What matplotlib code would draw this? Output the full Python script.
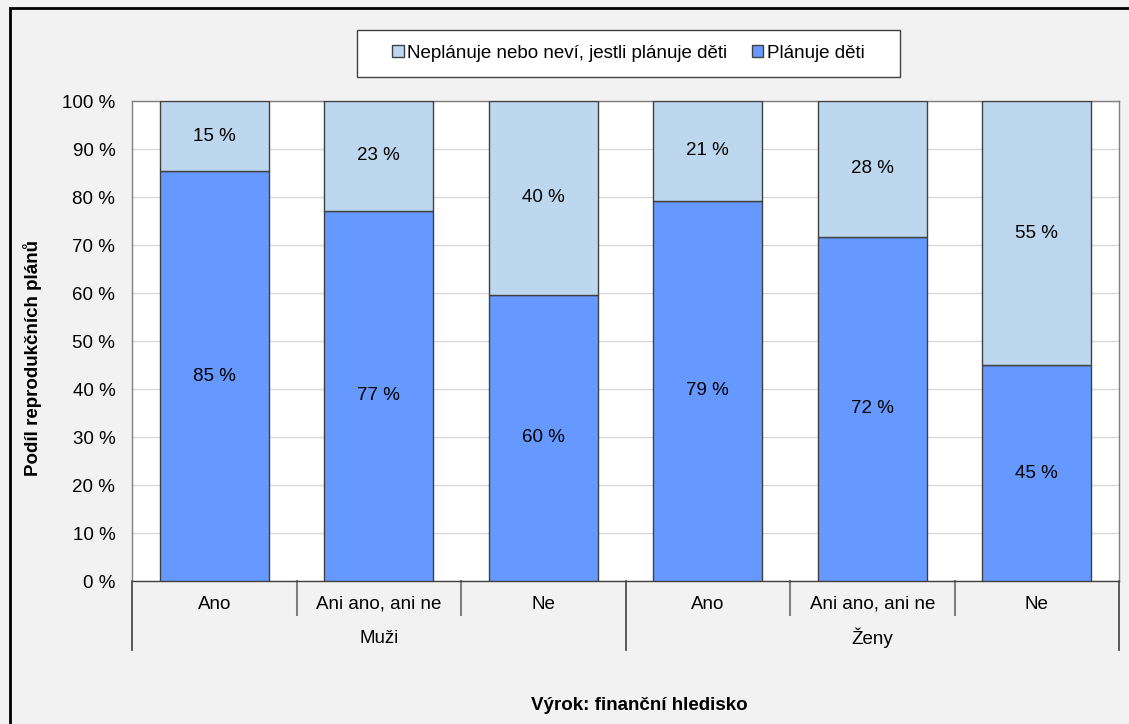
import matplotlib.pyplot as plt
from matplotlib.patches import Patch, Rectangle

plt.rcParams['font.family'] = ['Liberation Sans', 'DejaVu Sans']

categories = ["Ano", "Ani ano, ani ne", "Ne", "Ano", "Ani ano, ani ne", "Ne"]
groups = ["Muži", "Ženy"]
planuje = [85.4, 77.1, 59.6, 79.2, 71.7, 45.0]
neplanuje = [100 - v for v in planuje]

light = "#bdd7ee"
dark = "#6699ff"
edge = "#404040"
fs = 13.5

fig = plt.figure(figsize=(11.29, 7.24), dpi=100, facecolor="#f2f2f2")
fig.patches.append(Rectangle((10 / 1129, -0.2), 1.2, 1.2 - 8 / 724 + 0.0,
                             transform=fig.transFigure, fill=False,
                             edgecolor="black", linewidth=2))
# legend frame
fig.patches.append(Rectangle((357 / 1129, 1 - 77 / 724), 543 / 1129, 47 / 724,
                             transform=fig.transFigure, facecolor="white",
                             edgecolor="#404040", linewidth=1))

ax = fig.add_axes([132 / 1129, 1 - 581 / 724, (1119 - 132) / 1129, 480 / 724])
ax.set_facecolor("white")

x = list(range(len(categories)))
ax.bar(x, planuje, width=0.66, color=dark, edgecolor=edge, linewidth=1, zorder=3)
ax.bar(x, neplanuje, width=0.66, bottom=planuje, color=light, edgecolor=edge,
       linewidth=1, zorder=3)

for i in x:
    ax.text(i, planuje[i] / 2, f"{round(planuje[i])} %", ha="center", va="center",
            fontsize=fs, zorder=4)
    ax.text(i, planuje[i] + neplanuje[i] / 2, f"{round(neplanuje[i])} %",
            ha="center", va="center", fontsize=fs, zorder=4)

ax.set_xlim(-0.5, 5.5)
ax.set_ylim(0, 100)
ax.set_yticks(range(0, 101, 10))
ax.set_yticklabels([f"{v} %" for v in range(0, 101, 10)], fontsize=fs)
ax.tick_params(axis="y", length=0, pad=12)
ax.set_xticks([])
ax.grid(axis="y", color="#d9d9d9", linewidth=1, zorder=0)
for s in ax.spines.values():
    s.set_color("#808080")
    s.set_linewidth(1)
ax.spines["bottom"].set_color("#404040")

# category labels and separators under the axis
tr = ax.get_xaxis_transform()
for i, c in enumerate(categories):
    ax.text(i, -0.048, c, transform=tr, ha="center", va="center", fontsize=fs)
for b in [0.5, 1.5, 3.5, 4.5]:
    ax.plot([b, b], [0, -0.071], transform=tr, color="#808080", linewidth=1.5,
            clip_on=False)
for b in [-0.5, 2.5, 5.5]:
    ax.plot([b, b], [0, -0.144], transform=tr, color="#404040", linewidth=1.2,
            clip_on=False)
for g, gx in zip(groups, [1, 4]):
    ax.text(gx, -0.119, g, transform=tr, ha="center", va="center", fontsize=fs)

fig.text(33 / 1129, 1 - 358 / 724, "Podíl reprodukčních plánů", rotation=90,
         ha="center", va="center", fontsize=fs, fontweight="bold")
fig.text(639 / 1129, 1 - 705 / 724, "Výrok: finanční hledisko", ha="center",
         va="center", fontsize=fs, fontweight="bold")

handles = [Patch(facecolor=light, edgecolor=edge, label="Neplánuje nebo neví, jestli plánuje děti"),
           Patch(facecolor=dark, edgecolor=edge, label="Plánuje děti")]
leg = fig.legend(handles=handles, loc="center", bbox_to_anchor=(628.5 / 1129, 1 - 53.5 / 724),
                 ncol=2, fontsize=fs, frameon=False, handlelength=0.6, handleheight=0.6,
                 handletextpad=0.2, columnspacing=1.3, borderpad=0.5)

fig.savefig("out.png", dpi=100, facecolor=fig.get_facecolor())
